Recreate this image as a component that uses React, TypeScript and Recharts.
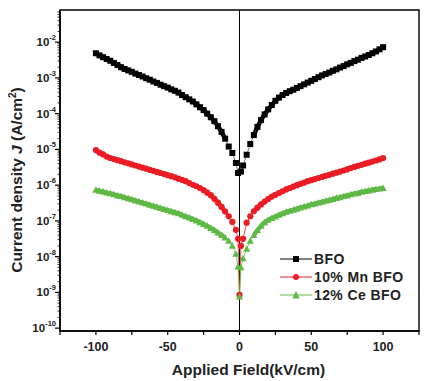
import React from "react";
import { LineChart, Line, XAxis, YAxis, ReferenceLine, ReferenceArea } from "recharts";

// Applied field (kV/cm)
const fieldKV = [
  -100, -97.5, -95, -92.5, -90, -87.5, -85, -82.5, -80, -77.5,
  -75, -72.5, -70, -67.5, -65, -62.5, -60, -57.5, -55, -52.5,
  -50, -47.5, -45, -42.5, -40, -37.5, -35, -32.5, -30, -27.5,
  -25, -22.5, -20, -17.5, -15, -12.5, -10, -7.5, -5, -2.5,
  -1, 0, 1,
  2.5, 5, 7.5, 10, 12.5, 15, 17.5, 20, 22.5, 25,
  27.5, 30, 32.5, 35, 37.5, 40, 42.5, 45, 47.5, 50,
  52.5, 55, 57.5, 60, 62.5, 65, 67.5, 70, 72.5, 75,
  77.5, 80, 82.5, 85, 87.5, 90, 92.5, 95, 97.5, 100,
];

// log10 of current density J (A/cm^2)
const bfoLogJ: (number | null)[] = [
  -2.31, -2.37, -2.42, -2.47, -2.52, -2.58, -2.64, -2.70, -2.75, -2.79,
  -2.83, -2.88, -2.92, -2.96, -3.01, -3.05, -3.10, -3.14, -3.19, -3.23,
  -3.27, -3.32, -3.36, -3.41, -3.48, -3.54, -3.60, -3.66, -3.74, -3.82,
  -3.90, -4.00, -4.10, -4.21, -4.35, -4.51, -4.70, -4.92, -5.10, -5.38,
  -5.66, null, -5.62,
  -5.45, -5.15, -4.85, -4.60, -4.37, -4.18, -4.02, -3.88, -3.76, -3.64,
  -3.55, -3.48, -3.42, -3.37, -3.33, -3.28, -3.23, -3.18, -3.13, -3.08,
  -3.03, -2.98, -2.93, -2.89, -2.85, -2.80, -2.76, -2.71, -2.67, -2.62,
  -2.58, -2.53, -2.49, -2.44, -2.40, -2.36, -2.31, -2.26, -2.20, -2.14,
];

const mnLogJ: (number | null)[] = [
  -5.02, -5.09, -5.14, -5.20, -5.24, -5.27, -5.30, -5.33, -5.36, -5.39,
  -5.42, -5.45, -5.48, -5.51, -5.54, -5.57, -5.60, -5.63, -5.66, -5.69,
  -5.72, -5.75, -5.78, -5.82, -5.85, -5.89, -5.94, -5.99, -6.03, -6.08,
  -6.14, -6.21, -6.28, -6.38, -6.49, -6.61, -6.74, -6.87, -7.03, -7.25,
  -7.50, -9.07, -7.70,
  -7.50, -7.05, -6.87, -6.73, -6.63, -6.54, -6.46, -6.39, -6.32, -6.27,
  -6.22, -6.17, -6.12, -6.08, -6.04, -6.00, -5.96, -5.93, -5.89, -5.86,
  -5.83, -5.80, -5.77, -5.74, -5.71, -5.68, -5.65, -5.62, -5.59, -5.56,
  -5.52, -5.49, -5.46, -5.43, -5.40, -5.37, -5.34, -5.31, -5.28, -5.24,
];

const ceLogJ: (number | null)[] = [
  -6.13, -6.16, -6.18, -6.21, -6.23, -6.26, -6.29, -6.31, -6.34, -6.37,
  -6.40, -6.43, -6.46, -6.49, -6.52, -6.55, -6.58, -6.61, -6.64, -6.67,
  -6.70, -6.73, -6.76, -6.79, -6.83, -6.87, -6.91, -6.95, -6.99, -7.04,
  -7.09, -7.14, -7.20, -7.26, -7.33, -7.40, -7.47, -7.56, -7.70, -7.92,
  -8.28, -9.12, -8.30,
  -8.05, -7.78, -7.56, -7.40, -7.26, -7.14, -7.04, -6.97, -6.92, -6.88,
  -6.83, -6.79, -6.75, -6.72, -6.69, -6.66, -6.63, -6.60, -6.57, -6.54,
  -6.52, -6.49, -6.47, -6.44, -6.42, -6.39, -6.36, -6.34, -6.31, -6.29,
  -6.26, -6.24, -6.22, -6.19, -6.17, -6.15, -6.13, -6.11, -6.10, -6.08,
];

const seriesNames = ["BFO", "10% Mn BFO", "12% Ce BFO"];
const seriesColors = ["#000000", "#ec1c24", "#5fb946"];

const xTicks = [-125, -100, -75, -50, -25, 0, 25, 50, 75, 100, 125];
const xTickLabels = ["", "-100", "", "-50", "", "0", "", "50", "", "100", ""];
const decadeExponents = [-10, -9, -8, -7, -6, -5, -4, -3, -2];

const Y_MIN = Math.pow(10, -10.08);
const Y_MAX = Math.pow(10, -1.1);

const yTicks: number[] = [];
decadeExponents.forEach((e) => {
  yTicks.push(Math.pow(10, e));
  for (let k = 2; k <= 9; k++) {
    const v = k * Math.pow(10, e);
    if (v < Y_MAX) yTicks.push(v);
  }
});

const toJ = (v: number | null) => (v == null ? null : Math.pow(10, v));
// band = same readings, drawn as a thick trace away from the origin where the markers merge
const band = (f: number, v: number | null) => (Math.abs(f) >= 10 ? toJ(v) : null);
const data = fieldKV.map((f, i) => ({
  f,
  bfo: toJ(bfoLogJ[i]),
  mn: toJ(mnLogJ[i]),
  ce: toJ(ceLogJ[i]),
  bfoBand: band(f, bfoLogJ[i]),
  mnBand: band(f, mnLogJ[i]),
  ceBand: band(f, ceLogJ[i]),
}));

const FONT = "'Liberation Sans', Arial, sans-serif";

const YTick = (props: any) => {
  const { x, y, payload } = props;
  const v = payload.value;
  const e = Math.log10(v);
  const re = Math.round(e);
  const major = Math.abs(e - re) < 1e-6;
  const ax = x + 6;
  return (
    <g>
      <line x1={ax} x2={ax - (major ? 5 : 2.5)} y1={y} y2={y} stroke="#000" strokeWidth={major ? 1.2 : 0.8} />
      {major && (
        <text x={ax - 4} y={y + 4} textAnchor="end" fontFamily={FONT} fontWeight="bold" fontSize={11.5} fill="#222">
          10
          <tspan dy={-6} fontSize={7.5}>{String(re)}</tspan>
        </text>
      )}
    </g>
  );
};

const XTick = (props: any) => {
  const { x, y, payload, index } = props;
  const ay = y - 6;
  const label = xTickLabels[xTicks.indexOf(payload.value)] ?? "";
  return (
    <g key={index}>
      <line x1={x} x2={x} y1={ay} y2={ay + 4} stroke="#000" strokeWidth={1.2} />
      {label && (
        <text x={x} y={ay + 20} textAnchor="middle" fontFamily={FONT} fontWeight="bold" fontSize={12.5} fill="#222">
          {label}
        </text>
      )}
    </g>
  );
};

const squareDot = (props: any) => {
  const { cx, cy, index } = props;
  if (cx == null || cy == null || props.value == null) return <g key={"s" + index} />;
  return <rect key={"s" + index} x={cx - 3} y={cy - 3} width={6} height={6} fill="#000" />;
};
const circleDot = (props: any) => {
  const { cx, cy, index } = props;
  if (cx == null || cy == null || props.value == null) return <g key={"c" + index} />;
  return <circle key={"c" + index} cx={cx} cy={cy} r={3.1} fill={seriesColors[1]} />;
};
const triDot = (props: any) => {
  const { cx, cy, index } = props;
  if (cx == null || cy == null || props.value == null) return <g key={"t" + index} />;
  const s = 3.6;
  return (
    <polygon
      key={"t" + index}
      points={`${cx},${cy - s} ${cx - s},${cy + s * 0.8} ${cx + s},${cy + s * 0.8}`}
      fill={seriesColors[2]}
    />
  );
};

const YLabel = () => {
  const cx = 14;
  const cy = 172;
  return (
    <text
      x={cx}
      y={cy}
      transform={`rotate(-90 ${cx} ${cy})`}
      textAnchor="middle"
      fontFamily={FONT}
      fontWeight="bold"
      fontSize={15.5}
      fill="#222"
    >
      Current density <tspan fontStyle="italic">J</tspan> (A/cm
      <tspan dy={-6} fontSize={10}>2</tspan>
      <tspan dy={6}>)</tspan>
    </text>
  );
};

const XLabel = (props: any) => {
  const vb = props.viewBox || {};
  const cx = (vb.x ?? 52) + (vb.width ?? 359) / 2 + 9;
  const y = (vb.y ?? 323) + 44;
  return (
    <text x={cx} y={y} textAnchor="middle" fontFamily={FONT} fontWeight="bold" fontSize={15.5} fill="#222">
      Applied Field(kV/cm)
    </text>
  );
};

const LegendIcon = ({ i }: { i: number }) => {
  const c = seriesColors[i];
  return (
    <svg width={32} height={12} style={{ display: "block" }}>
      <line x1={0} x2={32} y1={6} y2={6} stroke={c} strokeWidth={1} />
      {i === 0 && <rect x={13} y={3} width={6} height={6} fill={c} />}
      {i === 1 && <circle cx={16} cy={6} r={3} fill={c} />}
      {i === 2 && <polygon points="16,2 12.3,9.5 19.7,9.5" fill={c} />}
    </svg>
  );
};

export default function App() {
  return (
    <div style={{ position: "relative", width: 424, height: 373 }}>
      <LineChart width={424} height={373} data={data} margin={{ top: 2, right: 13, bottom: 0, left: 0 }}>
        <XAxis
          dataKey="f"
          type="number"
          domain={[-125, 125]}
          ticks={xTicks}
          interval={0}
          tickLine={false}
          tickSize={4}
          tickMargin={2}
          tick={<XTick />}
          axisLine={{ stroke: "#000", strokeWidth: 1.6 }}
          height={50}
          label={<XLabel />}
        />
        <YAxis
          type="number"
          scale="log"
          domain={[Y_MIN, Y_MAX]}
          allowDataOverflow
          ticks={yTicks}
          interval={0}
          tickLine={false}
          tickSize={4}
          tickMargin={2}
          tick={<YTick />}
          axisLine={{ stroke: "#000", strokeWidth: 1.6 }}
          width={52}
          label={<YLabel />}
        />
        <ReferenceArea x1={-125} x2={125} y1={Y_MIN} y2={Y_MAX} fill="none" stroke="#000" strokeWidth={1.4} ifOverflow="visible" />
        <ReferenceLine x={0} stroke="#000" strokeWidth={1} />
        <Line dataKey="bfoBand" stroke={seriesColors[0]} strokeWidth={4.5} dot={false} legendType="none" isAnimationActive={false} />
        <Line dataKey="mnBand" stroke={seriesColors[1]} strokeWidth={4.5} dot={false} legendType="none" isAnimationActive={false} />
        <Line dataKey="ceBand" stroke={seriesColors[2]} strokeWidth={4.5} dot={false} legendType="none" isAnimationActive={false} />
        <Line dataKey="bfo" name={seriesNames[0]} stroke="#555" strokeWidth={0.8} dot={squareDot} connectNulls isAnimationActive={false} />
        <Line dataKey="mn" name={seriesNames[1]} stroke={seriesColors[1]} strokeWidth={0.8} dot={circleDot} isAnimationActive={false} />
        <Line dataKey="ce" name={seriesNames[2]} stroke={seriesColors[2]} strokeWidth={0.8} dot={triDot} isAnimationActive={false} />
      </LineChart>
      <div style={{ position: "absolute", left: 272, top: 242, fontFamily: FONT, fontWeight: "bold", fontSize: 14, color: "#222" }}>
        {seriesNames.map((n, i) => (
          <div key={n} style={{ display: "flex", alignItems: "center", height: 18 }}>
            <LegendIcon i={i} />
            <span style={{ marginLeft: 2, letterSpacing: 0.4 }}>{n}</span>
          </div>
        ))}
      </div>
    </div>
  );
}
